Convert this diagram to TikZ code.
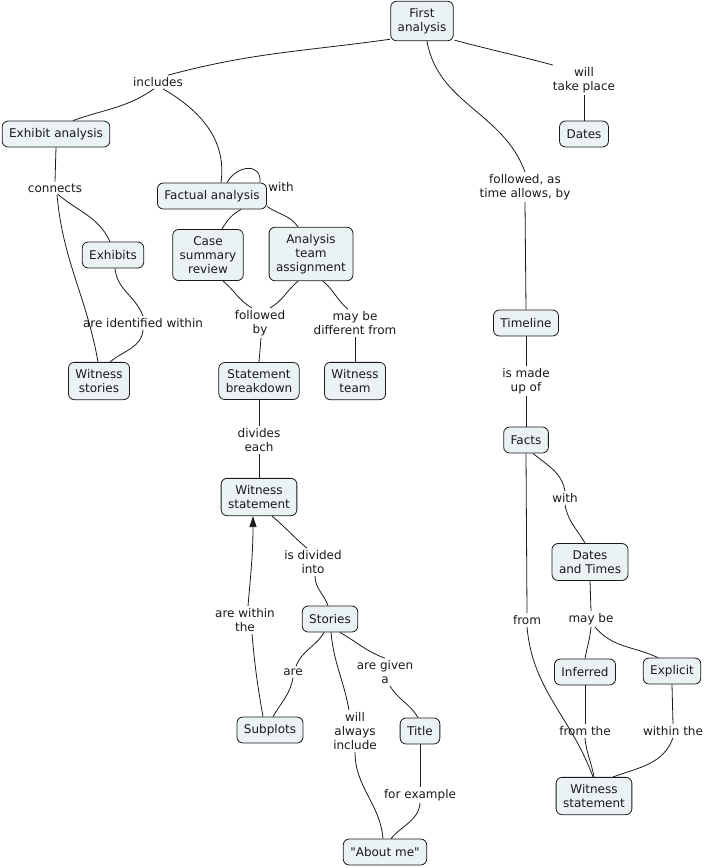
\documentclass[tikz,border=0pt]{standalone}
\usepackage{fontspec}
\setmainfont{DejaVu Sans}[Ligatures=TeXOff]
\usetikzlibrary{arrows.meta}
\definecolor{cBox}{HTML}{EBF2F4}
\definecolor{cInk}{HTML}{1A1A1A}

\begin{document}
\begin{tikzpicture}[
  x=1pt, y=1pt,
  font=\fontsize{12}{14}\selectfont,
  concept/.style={rectangle, rounded corners=6pt, draw=cInk, line width=0.8pt, fill=cBox,
                  text=cInk, align=center, inner xsep=7pt, inner ysep=7pt, minimum height=26pt},
  link/.style={align=center, inner sep=2pt, text=cInk},
  conn/.style={line width=0.8pt, draw=cInk},
  lead/.style={conn, -{Triangle[width=7pt,length=11pt]}},
]
\useasboundingbox (0,0) rectangle (706,-868);

% ---------- Concepts ----------
\node[concept] (first)      at (422,-21)  {First\\analysis};
\node[concept] (dates)      at (584,-134) {Dates};
\node[concept] (exhibitan)  at (56,-134)  {Exhibit analysis};
\node[concept] (factual)    at (212,-196) {Factual analysis};
\node[concept] (casesum)    at (208,-255) {Case\\summary\\review};
\node[concept] (teamassign) at (311,-254) {Analysis\\team\\assignment};
\node[concept] (exhibits)   at (113,-255) {Exhibits};
\node[concept] (wstories)   at (99,-381)  {Witness\\stories};
\node[concept] (stmtbreak)  at (259,-381) {Statement\\breakdown};
\node[concept] (wteam)      at (355,-381) {Witness\\team};
\node[concept] (timeline)   at (526,-323) {Timeline};
\node[concept] (facts)      at (526,-440) {Facts};
\node[concept] (datetimes)  at (590,-562) {Dates\\and Times};
\node[concept] (wstmt)      at (259,-497) {Witness\\statement};
\node[concept] (stories)    at (330,-619) {Stories};
\node[concept] (subplots)   at (270,-730) {Subplots};
\node[concept] (title)      at (420,-731) {Title};
\node[concept] (aboutme)    at (385,-852) {"About me"};
\node[concept] (inferred)   at (585,-672) {Inferred};
\node[concept] (explicit)   at (672,-671) {Explicit};
\node[concept] (wstmtb)     at (594,-796) {Witness\\statement};

% ---------- Linking phrases ----------
\node[link] (lIncludes)    at (158,-82)  {includes};
\node[link] (lTakePlace)   at (584,-80)  {will\\take place};
\node[link] (lConnects)    at (55,-188)  {connects};
\node[link] (lWith)        at (281,-187) {with};
\node[link] (lFollowedAs)  at (525,-187) {followed, as\\time allows, by};
\node[link] (lIdentified)  at (143,-323) {are identified within};
\node[link] (lFollowedBy)  at (260,-323) {followed\\by};
\node[link] (lDifferent)   at (355,-323) {may be\\different from};
\node[link] (lMadeUp)      at (526,-381) {is made\\up of};
\node[link] (lDivides)     at (259,-440) {divides\\each};
\node[link] (lWithFacts)   at (565,-498) {with};
\node[link] (lDividedInto) at (313,-562) {is divided\\into};
\node[link] (lWithinThe)   at (245,-620) {are within\\the};
\node[link] (lFrom)        at (527,-620) {from};
\node[link] (lMayBe)       at (591,-619) {may be};
\node[link] (lAre)         at (293,-672) {are};
\node[link] (lGivenA)      at (385,-672) {are given\\a};
\node[link] (lInclude)     at (355,-731) {will\\always\\include};
\node[link] (lFromThe)     at (585,-731) {from the};
\node[link] (lWithinThe2)  at (673,-731) {within the};
\node[link] (lExample)     at (420,-795) {for example};

% ---------- Connectors ----------
\draw[conn] ([yshift=2pt]first.south west) to[out=188,in=15] ([xshift=10pt]lIncludes.north);
\draw[conn] ([xshift=-4pt]lIncludes.south) to[out=215,in=20] ([xshift=17pt]exhibitan.north);
\draw[conn] ([xshift=5pt]lIncludes.south) to[out=-30,in=82] ([xshift=9pt]factual.north);
\draw[conn] ([xshift=15pt]factual.north) .. controls +(10,18) and +(2,20) .. ([xshift=48pt]factual.north);
\draw[conn] ([xshift=29pt]factual.south) to[out=-150,in=60] ([xshift=14pt]casesum.north);
\draw[conn] ([yshift=3pt]factual.south east) to[out=-35,in=125] ([xshift=-13pt]teamassign.north);
\draw[conn] ([xshift=15pt]casesum.south) to[out=-40,in=150] ([xshift=-8pt]lFollowedBy.north);
\draw[conn] ([xshift=-13pt]teamassign.south) to[out=-140,in=30] ([xshift=10pt]lFollowedBy.north);
\draw[conn] ([xshift=1pt]lFollowedBy.south) -- (stmtbreak.north);
\draw[conn] ([xshift=12pt]teamassign.south) to[out=-40,in=140] ([xshift=-7pt]lDifferent.north);
\draw[conn] (lDifferent.south) -- (wteam.north);

\draw[conn] ([xshift=1pt,yshift=1pt]first.south east) to[out=-15,in=165] ([xshift=2pt]lTakePlace.north west);
\draw[conn] (lTakePlace.south) -- (dates.north);
\draw[conn] ([xshift=5pt]first.south) to[out=-80,in=110] (lFollowedAs.north);
\draw[conn] (lFollowedAs.south) -- (timeline.north);

\draw[conn] (exhibitan.south) -- (lConnects.north);
\draw[conn] ([xshift=3pt]lConnects.south) to[out=-40,in=115] ([xshift=-3pt]exhibits.north);
\draw[conn] ([xshift=2pt]lConnects.south) to[out=-85,in=100] ([xshift=-1pt]wstories.north);
\draw[conn] ([xshift=2pt]exhibits.south) to[out=-85,in=110] (lIdentified.north);
\draw[conn] (lIdentified.south) to[out=-95,in=40] ([xshift=11pt]wstories.north);

\draw[conn] (stmtbreak.south) -- (lDivides.north);
\draw[conn] (lDivides.south) -- (wstmt.north);
\draw[conn] ([xshift=13pt]wstmt.south) to[out=-40,in=140] ([xshift=-6pt]lDividedInto.north);
\draw[conn] ([xshift=2pt]lDividedInto.south) to[out=-90,in=110] ([xshift=-2pt]stories.north);
\draw[conn] ([xshift=-7pt]subplots.north) to[out=100,in=-85] ([xshift=7pt]lWithinThe.south);
\draw[lead] ([xshift=3pt]lWithinThe.north) to[out=85,in=-90] ([xshift=-6pt]wstmt.south);

\draw[conn] ([xshift=-6pt]stories.south) to[out=-120,in=70] ([xshift=3pt]lAre.north);
\draw[conn] (lAre.south) to[out=-100,in=60] ([xshift=3pt]subplots.north);
\draw[conn] ([xshift=1pt]stories.south) to[out=-85,in=100] ([xshift=-6pt]lInclude.north);
\draw[conn] (lInclude.south) to[out=-90,in=95] ([xshift=-2pt]aboutme.north);
\draw[conn] ([xshift=10pt]stories.south) to[out=-30,in=160] (lGivenA.north);
\draw[conn] ([xshift=5pt]lGivenA.south) to[out=-60,in=120] ([xshift=-2pt]title.north);
\draw[conn] (title.south) -- (lExample.north);
\draw[conn] (lExample.south) to[out=-95,in=50] ([xshift=6pt]aboutme.north);

\draw[conn] (timeline.south) -- (lMadeUp.north);
\draw[conn] (lMadeUp.south) -- (facts.north);
\draw[conn] ([xshift=7pt]facts.south) to[out=-40,in=100] (lWithFacts.north);
\draw[conn] (lWithFacts.south) to[out=-80,in=120] ([xshift=-5pt]datetimes.north);
\draw[conn] (facts.south) -- (lFrom.north);
\draw[conn] (lFrom.south) to[out=-85,in=110] ([xshift=-1pt]wstmtb.north);
\draw[conn] (datetimes.south) -- (lMayBe.north);
\draw[conn] (lMayBe.south) to[out=-95,in=80] (inferred.north);
\draw[conn] ([xshift=4pt]lMayBe.south) to[out=-50,in=155] ([xshift=-14pt]explicit.north);
\draw[conn] (inferred.south) -- (lFromThe.north);
\draw[conn] (lFromThe.south) to[out=-85,in=100] (wstmtb.north);
\draw[conn] (explicit.south) -- (lWithinThe2.north);
\draw[conn] (lWithinThe2.south) to[out=-110,in=20] ([xshift=19pt]wstmtb.north);

\end{tikzpicture}
\end{document}
